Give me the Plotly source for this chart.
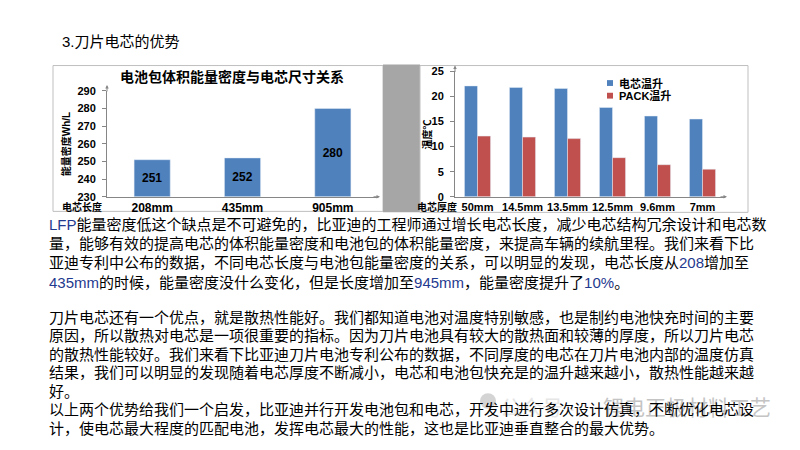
import plotly.graph_objects as go

# left chart: pack volumetric energy density vs cell length
lengths = ["208mm", "435mm", "905mm"]
density = [251, 252, 280]
y_floor = 230

# right chart: temperature rise vs cell thickness
thickness = ["50mm", "14.5mm", "13.5mm", "12.5mm", "9.6mm", "7mm"]
cell_rise = [22.1, 21.8, 21.6, 17.8, 16.1, 15.5]
pack_rise = [12.1, 11.9, 11.6, 7.8, 6.4, 5.5]
series_names = ["电芯温升", "PACK温升"]

title = "3.刀片电芯的优势"
left_title = "电池包体积能量密度与电芯尺寸关系"

B = "<span style='color:#1f3a8f'>%s</span>"
para1 = [
    B % "LFP" + "能量密度低这个缺点是不可避免的，比亚迪的工程师通过增长电芯长度，减少电芯结构冗余设计和电芯数",
    "量，能够有效的提高电芯的体积能量密度和电池包的体积能量密度，来提高车辆的续航里程。我们来看下比",
    "亚迪专利中公布的数据，不同电芯长度与电池包能量密度的关系，可以明显的发现，电芯长度从" + B % "208" + "增加至",
    B % "435mm" + "的时候，能量密度没什么变化，但是长度增加至" + B % "945mm" + "，能量密度提升了" + B % "10%" + "。",
]
para2 = [
    "刀片电芯还有一个优点，就是散热性能好。我们都知道电池对温度特别敏感，也是制约电池快充时间的主要",
    "原因，所以散热对电芯是一项很重要的指标。因为刀片电池具有较大的散热面和较薄的厚度，所以刀片电芯",
    "的散热性能较好。我们来看下比亚迪刀片电池专利公布的数据，不同厚度的电芯在刀片电池内部的温度仿真",
    "结果，我们可以明显的发现随着电芯厚度不断减小，电芯和电池包快充是的温升越来越小，散热性能越来越",
    "好。",
    "以上两个优势给我们一个启发，比亚迪并行开发电池包和电芯，开发中进行多次设计仿真，不断优化电芯设",
    "计，使电芯最大程度的匹配电池，发挥电芯最大的性能，这也是比亚迪垂直整合的最大优势。",
]
line_y1 = [224, 244, 264, 284]
line_y2 = [320, 339, 358, 377, 396, 415, 434]

# page has an 8px body margin, so the figure is shrunk to fit the window
OFF = 8
FW, FH = 784, 434
def px(x): return (x - OFF) / FW
def py(y): return 1 - (y - OFF) / FH

CHART_FONT = "Liberation Sans, Noto Sans CJK SC, sans-serif"
TEXT_FONT = "Liberation Sans, Noto Sans CJK SC, sans-serif"
AXIS = "#868686"
BLUE, RED = "#4f81bd", "#c0504d"

fig = go.Figure()

fig.add_trace(go.Bar(
    x=lengths, y=[d - y_floor for d in density], base=y_floor,
    xaxis="x", yaxis="y",
    marker_color=BLUE, width=0.4, offset=-0.2,
    text=density, textposition="inside", insidetextanchor="middle",
    textfont=dict(family=CHART_FONT, size=12, color="black", weight="bold"),
    showlegend=False,
))
fig.add_trace(go.Bar(
    x=thickness, y=cell_rise, xaxis="x2", yaxis="y2",
    marker_color=BLUE, name=series_names[0], showlegend=False,
))
fig.add_trace(go.Bar(
    x=thickness, y=pack_rise, xaxis="x2", yaxis="y2",
    marker_color=RED, name=series_names[1], showlegend=False,
))

tickf = dict(family=CHART_FONT, size=11, color="black", weight="bold")
common_y = dict(showline=True, linecolor=AXIS, linewidth=1, ticks="outside",
                ticklen=4, tickcolor=AXIS, showgrid=False, zeroline=False,
                tickfont=tickf, ticklabelstandoff=4)
common_x = dict(showline=True, linecolor=AXIS, linewidth=1, ticks="",
                showgrid=False, zeroline=False)

fig.update_layout(
    width=FW, height=FH,
    margin=dict(l=0, r=0, t=0, b=0),
    paper_bgcolor="white", plot_bgcolor="white",
    barmode="group", bargap=0.42, bargroupgap=0,
    xaxis=dict(domain=[px(107), px(378)], anchor="y", range=[-0.5, 2.5],
               tickfont=dict(family=CHART_FONT, size=12, color="black", weight="bold"),
               **common_x),
    yaxis=dict(domain=[py(196), py(87)], anchor="x", range=[230, 290],
               dtick=10, **common_y),
    xaxis2=dict(domain=[px(455), px(725)], anchor="y2", range=[-0.5, 5.5],
                tickfont=tickf, **common_x),
    yaxis2=dict(domain=[py(196), py(67)], anchor="x2", range=[0, 25],
                dtick=5, **common_y),
)

shapes = [
    dict(type="rect", xref="paper", yref="paper", x0=px(53), x1=px(383),
         y0=py(211), y1=py(61), line=dict(color="#bfbfbf", width=1), layer="below"),
    dict(type="rect", xref="paper", yref="paper", x0=px(383), x1=px(420),
         y0=py(212), y1=py(60), fillcolor="#a6a6a6", line=dict(width=0), layer="below"),
    dict(type="rect", xref="paper", yref="paper", x0=px(420), x1=px(748),
         y0=py(212), y1=py(61), line=dict(color="#bfbfbf", width=1), layer="below"),
    # watermark icon
    dict(type="circle", xref="paper", yref="paper", x0=px(480), x1=px(496),
         y0=py(414), y1=py(398), fillcolor="#d4d4d4", line=dict(width=0), layer="below"),
]

def note(text, x, y, size, color="black", bold=False, anchor="center", angle=0, font=CHART_FONT):
    f = dict(family=font, size=size, color=color)
    if bold:
        f["weight"] = "bold"
    return dict(text=text, x=px(x), y=py(y), xref="paper", yref="paper",
                xanchor=anchor, yanchor="middle", textangle=angle,
                font=f, showarrow=False)

ann = []
# watermark first so the text sits over it
ann.append(note("公众号 · ", 498, 413, 21, "#e6e6e6", anchor="left", font=TEXT_FONT))
ann.append(note("锂电正极材料工艺", 601, 413, 21, "#c4c4c4", anchor="left", font=TEXT_FONT))

ann.append(note(title, 60, 36, 15, anchor="left", font=TEXT_FONT))
ann.append(note(left_title, 232, 73, 14, bold=True))
ann.append(note("能量密度Wh/L", 66, 142, 10, bold=True, angle=-90))
ann.append(note("温度℃", 427, 132, 10, bold=True, angle=-90))
ann.append(note("电芯长度", 82, 207, 10, bold=True))
ann.append(note("电芯厚度", 437, 207, 10, bold=True))

# compact legend like the original slide
for name, color, ly in zip(series_names, [BLUE, RED], [79, 92]):
    shapes.append(dict(type="rect", xref="paper", yref="paper",
                       x0=px(607), x1=px(613), y0=py(ly + 3), y1=py(ly - 3),
                       fillcolor=color, line=dict(width=0)))
    ann.append(note(name, 617, ly, 11, bold=True, anchor="left"))

# small arrowheads at axis ends
for (x, y, ax, ay) in [(107, 81, 0, 8), (455, 61, 0, 8), (380, 196, -8, 0), (727, 196, -8, 0)]:
    ann.append(dict(x=px(x), y=py(y), xref="paper", yref="paper", text="",
                    showarrow=True, arrowhead=2, arrowsize=0.7, arrowwidth=1,
                    arrowcolor=AXIS, ax=ax, ay=ay))

for txt, y in zip(para1 + para2, line_y1 + line_y2):
    ann.append(note(txt, 47, y, 15, anchor="left", font=TEXT_FONT))

fig.update_layout(shapes=shapes, annotations=ann)
fig.write_html("out.html")
